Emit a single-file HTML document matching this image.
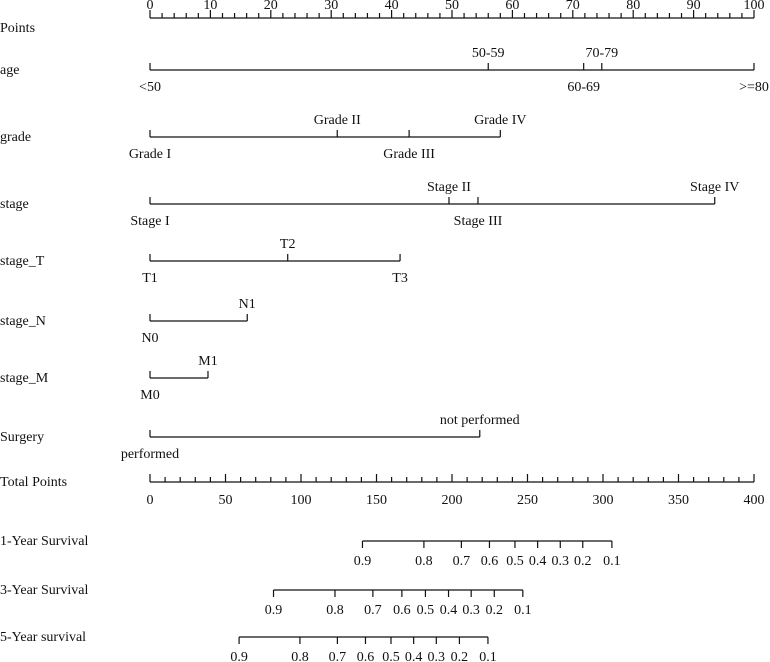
<!DOCTYPE html>
<html><head><meta charset="utf-8">
<style>
html,body{margin:0;padding:0;background:#fff;}
svg{display:block;font-family:"Liberation Serif",serif;font-size:14px;fill:#111;}
line{stroke:#111;stroke-width:1.2;}
</style></head>
<body>
<svg id="chart" width="770" height="662" viewBox="0 0 770 662"></svg>
<script>
// ---- data ----
const pointTicks = [0,10,20,30,40,50,60,70,80,90,100];
const totalTicks = [0,50,100,150,200,250,300,350,400];
const ageLabels = ["<50","50-59","60-69","70-79",">=80"];
const agePoints = [0,56.0,71.8,74.8,100];
const gradeLabels = ["Grade I","Grade II","Grade III","Grade IV"];
const gradePoints = [0,31.0,42.9,58.0];
const stageLabels = ["Stage I","Stage II","Stage III","Stage IV"];
const stagePoints = [0,49.5,54.3,93.5];
const tLabels = ["T1","T2","T3"];
const tPoints = [0,22.8,41.4];
const nLabels = ["N0","N1"];
const nPoints = [0,16.1];
const mLabels = ["M0","M1"];
const mPoints = [0,9.6];
const surgLabels = ["performed","not performed"];
const surgPoints = [0,54.6];
const survLabels = ["0.9","0.8","0.7","0.6","0.5","0.4","0.3","0.2","0.1"];
const surv1 = [140.7,181.4,206.2,224.8,241.7,256.7,271.7,286.6,305.9];
const surv3 = [81.8,122.5,147.6,166.8,182.4,197.7,212.7,228.0,246.9];
const surv5 = [59.0,99.3,124.1,142.7,159.6,174.6,189.6,204.9,223.8];

// ---- scales ----
const X0 = 150, X1 = 754;
const xP = v => X0 + (X1 - X0) * v / 100;
const xT = v => X0 + (X1 - X0) * v / 400;
const svg = document.getElementById('chart');
const NS = 'http://www.w3.org/2000/svg';
function ln(x1,y1,x2,y2,name){
  const e=document.createElementNS(NS,'line');
  e.setAttribute('x1',x1);e.setAttribute('y1',y1);e.setAttribute('x2',x2);e.setAttribute('y2',y2);
  
  
  svg.appendChild(e);return e;
}
function tx(x,y,s,name,anchor){
  const e=document.createElementNS(NS,'text');
  e.setAttribute('x',x);e.setAttribute('y',y);e.setAttribute('text-anchor',anchor||'middle');
  e.textContent=s;
  
  
  svg.appendChild(e);return e;
}

// Points axis
tx(0,32,"Points","points-label","start");
ln(xP(0),18,xP(100),18,"points-axis");
for(let v=0;v<=100;v+=2){ const major=v%10===0; ln(xP(v),18,xP(v),major?10:13,"points-tick"); }
pointTicks.forEach(v=>tx(xP(v),9,String(v),"points-tick-label"));

// variable axes
function variable(name,key,y,labels,pts){
  tx(0,y+4,name,key+"-label","start");
  const mx=Math.max(...pts);
  ln(xP(0),y,xP(mx),y,key+"-axis");
  pts.forEach((p,i)=>{
    ln(xP(p),y,xP(p),y-7,key+"-tick");
    const above = i%2===1;
    tx(xP(p), above? y-13 : y+21, labels[i], key+"-tick-label");
  });
}
variable("age","age",70,ageLabels,agePoints);
variable("grade","grade",137,gradeLabels,gradePoints);
variable("stage","stage",204,stageLabels,stagePoints);
variable("stage_T","stage-t",261,tLabels,tPoints);
variable("stage_N","stage-n",321,nLabels,nPoints);
variable("stage_M","stage-m",378,mLabels,mPoints);
variable("Surgery","surgery",437,surgLabels,surgPoints);

// Total points
tx(0,486,"Total Points","total-points-label","start");
ln(xT(0),482,xT(400),482,"total-points-axis");
for(let v=0;v<=400;v+=10){ const major=v%50===0; ln(xT(v),482,xT(v),major?474:477,"total-points-tick"); }
totalTicks.forEach(v=>tx(xT(v),504,String(v),"total-points-tick-label"));

// survival axes
function surv(name,key,y,vals){
  tx(0,y+4,name,key+"-label","start");
  ln(xT(vals[0]),y,xT(vals[vals.length-1]),y,key+"-axis");
  vals.forEach((v,i)=>{ ln(xT(v),y,xT(v),y+7,key+"-tick"); tx(xT(v),y+24,survLabels[i],key+"-tick-label"); });
}
surv("1-Year Survival","survival-1yr",541,surv1);
surv("3-Year Survival","survival-3yr",590,surv3);
surv("5-Year survival","survival-5yr",637,surv5);
</script>
</body></html>
